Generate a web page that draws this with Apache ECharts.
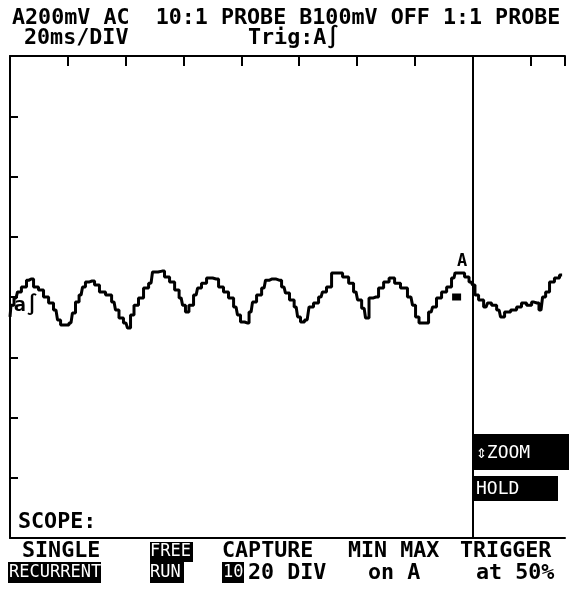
<!DOCTYPE html>
<html>
<head>
<meta charset="utf-8">
<script src="https://cdn.jsdelivr.net/npm/echarts@6/dist/echarts.min.js"></script>
<style>
  html, body { margin: 0; padding: 0; background: #fff; }
  #chart { width: 569px; height: 591px; }
</style>
</head>
<body>
<div id="chart"></div>
<script>
// Channel A trace: time (ms) and level (V at probe tip, 200 mV/div x 10:1)
const timeMs = [
  0, 0.7, 2.1, 3.1, 4.8, 6.6, 7.3, 9.0, 10.7, 12.5, 14.2, 15.9, 17.0, 18.0, 19.7, 21.1,
  22.1, 23.2, 24.6, 25.6, 26.6, 28.4, 30.1, 31.8, 34.3, 36.0, 37.0, 38.4, 40.1, 41.2,
  42.2, 43.6, 45.3, 47.1, 48.8, 49.8, 52.6, 54.3, 56.1, 57.8, 59.2, 60.2, 61.2, 62.6,
  64.4, 65.4, 67.1, 68.9, 71.3, 73.0, 74.7, 76.5, 78.2, 79.2, 80.3, 82.0, 83.4, 84.4,
  86.2, 87.9, 88.9, 90.7, 93.1, 94.8, 95.8, 97.6, 99.0, 100.0, 101.0, 102.8, 104.1,
  105.9, 107.6, 108.6, 110.4, 112.1, 113.8, 116.3, 118.0, 119.7, 120.8, 122.5, 123.5,
  124.9, 126.6, 128.4, 130.1, 132.2, 133.9, 136.3, 138.7, 139.8, 140.8, 142.2, 143.9,
  145.7, 146.7, 148.4, 150.2, 151.9, 153.6, 154.3, 156.4, 158.1, 159.5, 160.5, 161.2,
  163.0, 164.7, 165.7, 167.5, 169.2, 170.2, 172.0, 174.4, 176.1, 177.8, 179.6, 181.3,
  182.3, 183.7, 184.8, 185.8, 187.5, 189.2, 191.0
];
const levelV = [
  -0.66, -0.27, -0.03, 0.17, 0.33, 0.56, 0.60, 0.33, 0.23, 0.00, -0.20, -0.43, -0.76, -0.93, -0.93, -0.86,
  -0.53, -0.17, 0.07, 0.33, 0.50, 0.53, 0.40, 0.17, 0.07, -0.17, -0.43, -0.70, -0.86, -1.03,
  -0.60, -0.27, -0.03, 0.30, 0.46, 0.83, 0.86, 0.66, 0.50, 0.23, -0.03, -0.27, -0.50, -0.27,
  0.07, 0.30, 0.46, 0.63, 0.60, 0.33, 0.17, -0.03, -0.33, -0.60, -0.83, -0.86, -0.50, -0.17,
  0.07, 0.30, 0.56, 0.60, 0.56, 0.33, 0.13, -0.10, -0.33, -0.66, -0.83, -0.76, -0.33,
  -0.20, 0.00, 0.17, 0.33, 0.80, 0.80, 0.66, 0.46, 0.17, -0.10, -0.37, -0.70,
  -0.03, 0.00, 0.30, 0.50, 0.63, 0.46, 0.30, 0.00, -0.27, -0.66, -0.86, -0.86,
  -0.50, -0.33, -0.03, 0.17, 0.33, 0.63, 0.80, 0.80, 0.66, 0.50, 0.40, 0.07,
  -0.10, -0.33, -0.20, -0.27, -0.43, -0.66, -0.50, -0.43, -0.33, -0.20, -0.27, -0.17,
  -0.20, -0.43, 0.00, 0.17, 0.50, 0.63, 0.73
];

// Screen geometry in scope units
const timePerDiv = 20;      // ms/DIV
const timeSpan = 192;       // visible record, ms
const voltsPerDiv = 2;      // 200 mV/div with 10:1 probe
const vertDivs = 4;         // divisions above/below centre
const cursorTime = 160;     // zoom cursor position, ms
const peakMark = [156.4, 1.16];  // "A" max marker
const peakBlock = [154.5, 0.0];  // min/max capture marker
const traceTag = [5.5, -0.3];    // channel / trigger tag at left edge

// Header and softkey texts
const headerLine1 = 'A200mV AC  10:1 PROBE B100mV OFF 1:1 PROBE';
const headerTime = '20ms/DIV';
const headerTrig = 'Trig:A\u222B';
const menuTop = ['SINGLE', 'FREE', 'CAPTURE', 'MIN MAX', 'TRIGGER'];
const menuBottom = ['RECURRENT', 'RUN', '10', '20 DIV', 'on A', 'at 50%'];

const FONT_FAMILY = '"DejaVu Sans Mono", monospace';
const font = (size, weight) => (weight || 'normal') + ' ' + size + 'px ' + FONT_FAMILY;

function txt(str, x, y, size, color, weight) {
  return {
    type: 'text', x: x, y: y, silent: true,
    style: { text: str, font: font(size, weight), fill: color || '#000',
             verticalAlign: 'middle', align: 'left' }
  };
}
function box(x, y, w, h) {
  return { type: 'rect', shape: { x: x, y: y, width: w, height: h },
           style: { fill: '#000' }, silent: true };
}
function tagLabel(str, size) {
  return { show: true, formatter: str, color: '#000', fontSize: size, fontWeight: 'bold',
           fontFamily: FONT_FAMILY, position: 'inside' };
}

const chart = echarts.init(document.getElementById('chart'), null, { renderer: 'canvas' });

const axisLineStyle = { color: '#000', width: 2 };

chart.setOption({
  animation: false,
  backgroundColor: '#fff',
  grid: { left: 10, right: 4, top: 56, bottom: 53 },
  xAxis: [
    {
      type: 'value', min: 0, max: timeSpan, interval: timePerDiv, position: 'top',
      axisLine: { show: true, onZero: false, lineStyle: axisLineStyle },
      axisTick: { show: true, inside: true, length: 10, lineStyle: axisLineStyle },
      axisLabel: { show: false }, splitLine: { show: false }
    },
    {
      type: 'value', min: 0, max: timeSpan, position: 'bottom',
      axisLine: { show: true, onZero: false, lineStyle: axisLineStyle },
      axisTick: { show: false }, axisLabel: { show: false }, splitLine: { show: false }
    }
  ],
  yAxis: {
    type: 'value', min: -vertDivs * voltsPerDiv, max: vertDivs * voltsPerDiv, interval: voltsPerDiv,
    axisLine: { show: true, onZero: false, lineStyle: axisLineStyle },
    axisTick: { show: true, inside: true, length: 8, lineStyle: axisLineStyle },
    axisLabel: { show: false }, splitLine: { show: false }
  },
  series: [
    {
      type: 'line',
      xAxisIndex: 0,
      data: timeMs.map((t, i) => [t, levelV[i]]),
      step: 'middle',
      showSymbol: false,
      symbol: 'none',
      lineStyle: { color: '#000', width: 3 },
      markLine: {
        silent: true, symbol: 'none',
        label: { show: false },
        lineStyle: { color: '#000', width: 2, type: 'solid' },
        data: [{ xAxis: cursorTime }]
      },
      markPoint: {
        silent: true,
        data: [
          { coord: peakMark, symbol: 'rect', symbolSize: 0.1, label: tagLabel('A', 17) },
          { coord: peakBlock, symbol: 'rect', symbolSize: [9, 7], itemStyle: { color: '#000' },
            label: { show: false } },
          { coord: traceTag, symbol: 'rect', symbolSize: 0.1, label: tagLabel('a\u222B', 20) }
        ]
      }
    }
  ],
  graphic: [
    // header
    txt(headerLine1, 12, 18, 21.7, '#000', 'bold'),
    txt(headerTime, 24, 38, 21.7, '#000', 'bold'),
    txt(headerTrig, 248, 38, 21.7, '#000', 'bold'),
    // zoom / hold panel
    box(473, 434, 96, 36),
    txt('\u21D5ZOOM', 476, 453, 18, '#fff'),
    box(473, 476, 85, 25),
    txt('HOLD', 476, 489, 18, '#fff'),
    // mode line
    txt('SCOPE:', 18, 522, 21.7, '#000', 'bold'),
    // softkey labels
    txt(menuTop[0], 22, 551, 21.7, '#000', 'bold'),
    box(8, 562, 93, 21),
    txt(menuBottom[0], 9, 573, 17, '#fff'),
    box(150, 542, 43, 20),
    txt(menuTop[1], 150, 552, 17, '#fff'),
    box(150, 562, 34, 21),
    txt(menuBottom[1], 150, 573, 17, '#fff'),
    txt(menuTop[2], 222, 551, 21.7, '#000', 'bold'),
    box(222, 562, 22, 21),
    txt(menuBottom[2], 223, 573, 17, '#fff'),
    txt(menuBottom[3], 248, 573, 21.7, '#000', 'bold'),
    txt(menuTop[3], 348, 551, 21.7, '#000', 'bold'),
    txt(menuBottom[4], 368, 573, 21.7, '#000', 'bold'),
    txt(menuTop[4], 460, 551, 21.7, '#000', 'bold'),
    txt(menuBottom[5], 476, 573, 21.7, '#000', 'bold')
  ]
});
</script>
</body>
</html>
